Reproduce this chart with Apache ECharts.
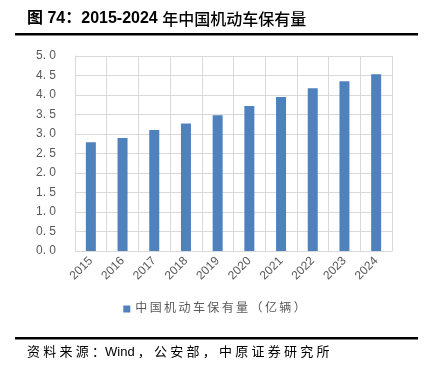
<!DOCTYPE html>
<html><head><meta charset="utf-8">
<script src="https://cdn.jsdelivr.net/npm/echarts@6/dist/echarts.min.js"></script>
<style>html,body{margin:0;padding:0;background:#fff}#c{width:429px;height:372px}</style>
</head><body><div id="c"></div>
<script>
var categories = ['2015','2016','2017','2018','2019','2020','2021','2022','2023','2024'];
var values = [2.79, 2.90, 3.10, 3.27, 3.48, 3.72, 3.95, 4.17, 4.35, 4.53];
var seriesName = '中国机动车保有量（亿辆）';
var titleHead = '图 74：2015-2024 ';
var titleTail = '年中国机动车保有量';
var sourceText = '资料来源：Wind，公安部，中原证券研究所';

function spaced(s, sp){
  var out = '';
  var chars = Array.from(s);
  for (var i=0;i<chars.length;i++){
    out += chars[i];
    if (i<chars.length-1){
      var a = chars[i].charCodeAt(0) > 0x2e80, b = chars[i+1].charCodeAt(0) > 0x2e80;
      if ((a && b) || (a && chars[i] !== '：') || (b && chars[i] !== '：')) out += sp;
    }
  }
  return out;
}

var chart = echarts.init(document.getElementById('c'), null, {renderer:'canvas'});
chart.setOption({
  animation:false,
  backgroundColor:'#fff',
  graphic:[
    {type:'text', left:27, top:11, style:{
      text:'{h|'+titleHead+'}{t|'+titleTail+'}',
      rich:{
        h:{font:'bold 16px "Liberation Sans","Noto Sans CJK SC",sans-serif', fill:'#000'},
        t:{font:'500 16px "Noto Sans CJK SC",sans-serif', fill:'#000'}
      }}},
    {type:'rect', shape:{x:15, y:33, width:403, height:2.5}, style:{fill:'#000'}},
    {type:'rect', shape:{x:15, y:337, width:403, height:2.5}, style:{fill:'#000'}},
    {type:'text', left:27, top:346, style:{text:spaced(sourceText,'\u2005'), font:'13px "Liberation Sans","Noto Sans CJK SC",sans-serif', fill:'#000'}}
  ],
  grid:{left:75, right:37, top:56, bottom:121, containLabel:false},
  legend:{
    data:[seriesName], bottom:52, left:'center',
    itemWidth:7, itemHeight:7, itemGap:4, icon:'rect',
    formatter:function(n){return spaced(n,'\u2009');},
    textStyle:{color:'#595959', fontSize:12, fontFamily:'"Liberation Sans","Noto Sans CJK SC",sans-serif'}
  },
  xAxis:{
    type:'category', data:categories,
    axisLine:{show:true, lineStyle:{color:'#d9d9d9'}},
    axisTick:{show:false},
    splitLine:{show:true, interval:0, lineStyle:{color:'#d9d9d9'}},
    axisLabel:{rotate:45, color:'#595959', fontSize:12, interval:0, margin:8, fontFamily:'"Liberation Sans",sans-serif'}
  },
  yAxis:{
    type:'value', min:0, max:5, interval:0.5,
    axisLine:{show:true, lineStyle:{color:'#d9d9d9'}},
    axisTick:{show:false},
    splitLine:{lineStyle:{color:'#d9d9d9'}},
    axisLabel:{color:'#595959', fontSize:12, margin:19, fontFamily:'"Liberation Sans",sans-serif',
      formatter:function(v){return v.toFixed(1).split('').join(' ').replace(' . ','. ');}}
  },
  series:[{
    name:seriesName, type:'bar', data:values, barWidth:10,
    itemStyle:{color:'#4f81bd'}
  }]
});
</script></body></html>
